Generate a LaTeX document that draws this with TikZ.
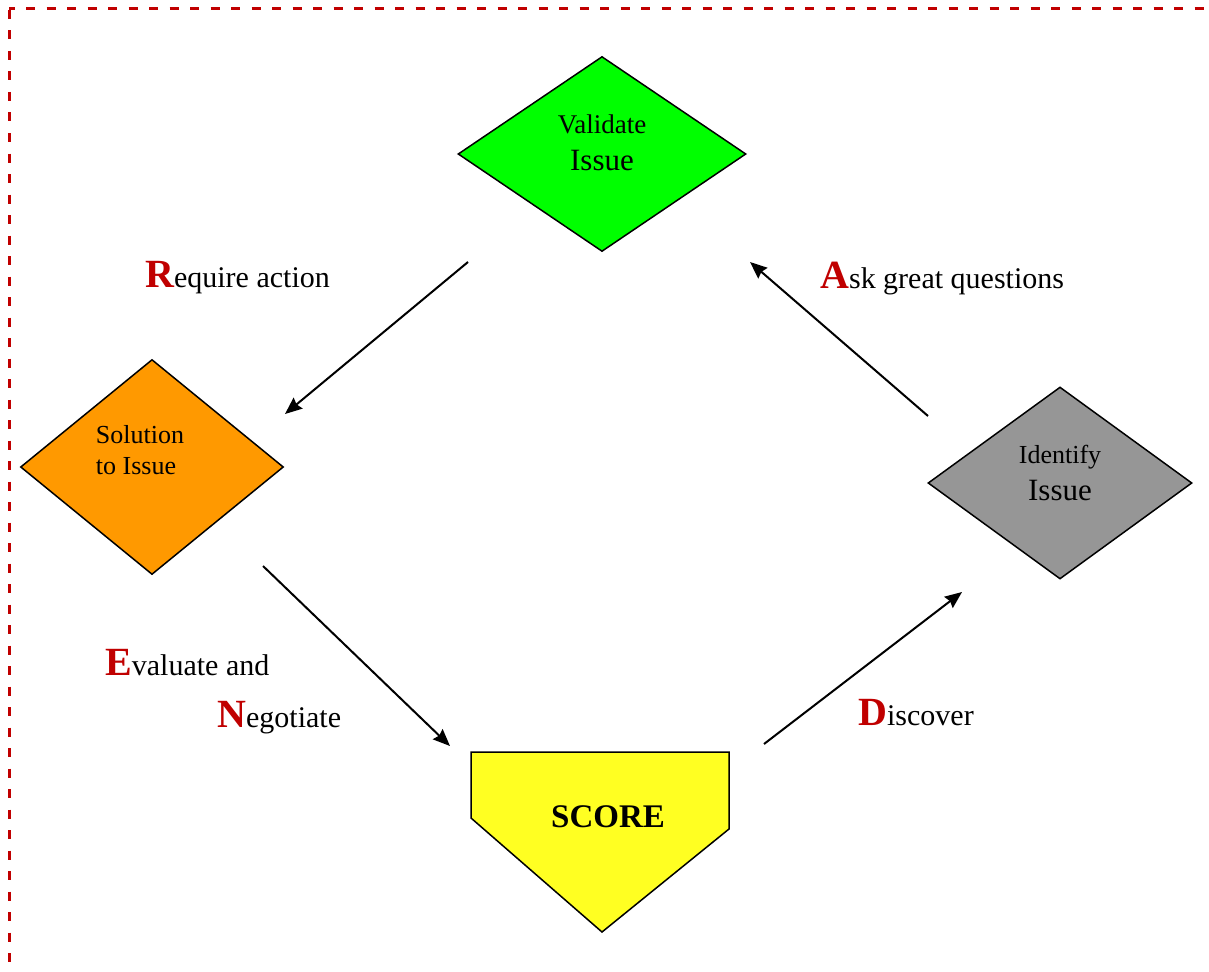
\documentclass[tikz,border=0pt]{standalone}
\usepackage{fontspec}
\setmainfont{Liberation Serif}
\usepackage{tikz}
\usetikzlibrary{shapes.geometric}
\usetikzlibrary{arrows.meta}
\usetikzlibrary{positioning}

\definecolor{darkred}{HTML}{C00000}
\definecolor{valgreen}{HTML}{00FF00}
\definecolor{solorange}{HTML}{FF9900}
\definecolor{idgray}{HTML}{969696}
\definecolor{scoreyellow}{HTML}{FFFF22}

\newcommand{\firstletter}[1]{{\color{darkred}\fontsize{40}{40}\selectfont\bfseries #1}}
\newcommand{\smalltxt}{\fontsize{26}{37}\selectfont}
\newcommand{\issuetxt}{\fontsize{31}{37}\selectfont}
\newcommand{\labeltxt}{\fontsize{30}{36}\selectfont}

\begin{document}
\begin{tikzpicture}[x=1pt, y=-1pt, >={Stealth[length=17pt,width=14pt,inset=2pt]}]
\tikzstyle{decision}=[diamond, draw=black, line width=1.5pt, inner sep=0pt]
\tikzstyle{flow}=[->, line width=2pt, black]
\tikzstyle{step label}=[anchor=base west, inner sep=0pt, font=\labeltxt]
\tikzstyle{border}=[draw=darkred, line width=3pt, dash pattern=on 9pt off 11.5pt]

\useasboundingbox (0,0) rectangle (1209,971);
\clip (0,0) rectangle (1209,971);

\draw[border, dash phase=3.5pt] (9,9) -- (1240,9);
\draw[border] (9,10) -- (9,1000);

\node[decision, fill=valgreen, minimum width=288pt, minimum height=195pt,
  label={[align=center, font=\fontsize{27}{37}\selectfont, yshift=11pt]center:Validate\\{\issuetxt Issue}}]
  (validate) at (602,154) {};
\node[decision, fill=solorange, minimum width=263pt, minimum height=215pt,
  label={[align=left, font=\fontsize{26}{31}\selectfont, xshift=-12pt, yshift=17pt]center:Solution\\to Issue}]
  (solution) at (152,467) {};
\node[decision, fill=idgray, minimum width=264pt, minimum height=192pt,
  label={[align=center, font=\smalltxt, yshift=10pt]center:Identify\\{\issuetxt Issue}}]
  (identify) at (1060,483) {};

\draw[draw=black, fill=scoreyellow, line width=1.5pt]
  (471,752) -- (729,752) -- (729,829) -- (602,932) -- (471,818) -- cycle;
\node[font=\fontsize{33}{33}\selectfont\bfseries] (score) at (608,817) {SCORE};

\node[step label] (require) at (145,287) {\firstletter{R}equire action};
\node[step label] (ask) at (820,288) {\firstletter{A}sk great questions};
\node[step label] (evaluate) at (105,675) {\firstletter{E}valuate and};
\node[step label] (negotiate) at (217,727) {\firstletter{N}egotiate};
\node[step label] (discover) at (858,725) {\firstletter{D}iscover};

\coordinate (reqA) at (468,262);
\coordinate (reqB) at (285,414);
\coordinate (negA) at (263,566);
\coordinate (negB) at (450,746);
\coordinate (disA) at (764,744);
\coordinate (disB) at (962,592);
\coordinate (askA) at (928,416);
\coordinate (askB) at (750,262);

\path
(reqA) edge[flow] (reqB)
(negA) edge[flow] (negB)
(disA) edge[flow] (disB)
(askA) edge[flow] (askB)
;
\end{tikzpicture}
\end{document}
